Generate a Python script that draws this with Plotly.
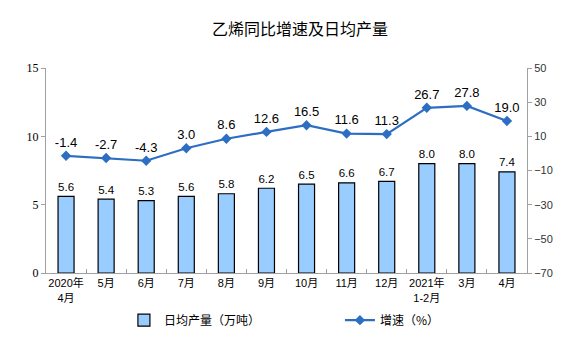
import plotly.graph_objects as go

categories = ["2020年<br>4月", "5月", "6月", "7月", "8月", "9月", "10月", "11月", "12月",
              "2021年<br>1-2月", "3月", "4月"]
output = [5.6, 5.4, 5.3, 5.6, 5.8, 6.2, 6.5, 6.6, 6.7, 8.0, 8.0, 7.4]
growth = [-1.4, -2.7, -4.3, 3.0, 8.6, 12.6, 16.5, 11.6, 11.3, 26.7, 27.8, 19.0]
right_ticks = [-70, -50, -30, -10, 10, 30, 50]

cjk = "Noto Sans CJK SC"
num = "Liberation Sans"

fig = go.Figure()
fig.add_trace(go.Bar(
    x=categories, y=output, name="日均产量（万吨）",
    marker=dict(color="#99CCFF", line=dict(color="#000000", width=1.2)),
    width=0.4,
    text=[f"{v:.1f}" for v in output], textposition="outside",
    textfont=dict(family=num, size=13, color="#000000"),
    cliponaxis=False,
))
fig.add_trace(go.Scatter(
    x=categories, y=growth, name="增速（%）", yaxis="y2",
    mode="lines+markers+text",
    line=dict(color="#2D6EC3", width=2.2),
    marker=dict(symbol="diamond", size=8, color="#2D6EC3"),
    text=[f"{v:.1f}" for v in growth], textposition="top center",
    textfont=dict(family=num, size=13, color="#000000"),
    cliponaxis=False,
))

fig.update_layout(
    width=576, height=358,
    margin=dict(l=38, r=57, t=60, b=93, autoexpand=False),
    paper_bgcolor="white", plot_bgcolor="white",
    title=dict(text="乙烯同比增速及日均产量", x=0.507, xanchor="center", y=0.940, yanchor="middle",
               font=dict(family=cjk, size=16, color="#000000")),
    bargap=0.6,
    showlegend=True,
    legend=dict(orientation="h", x=0.162, xanchor="left", y=-0.23, yanchor="middle",
                font=dict(family=cjk, size=12, color="#000000"),
                entrywidth=171, entrywidthmode="pixels", bgcolor="rgba(0,0,0,0)"),
    xaxis=dict(type="category", range=[-0.5, 11.5], autorange=False,
               showline=True, linecolor="#A0A0A0", linewidth=1,
               ticks="inside", tickson="boundaries", ticklen=4, tickcolor="#A0A0A0",
               tickangle=0, automargin=False,
               tickfont=dict(family="Liberation Sans, Noto Sans CJK SC", size=11, color="#000000"),
               showgrid=False),
    yaxis=dict(range=[0, 15], dtick=5, showline=True, linecolor="#A0A0A0", linewidth=1,
               ticks="outside", ticklen=4, tickcolor="#A0A0A0", showgrid=False, zeroline=False,
               automargin=False,
               tickfont=dict(family="Liberation Serif", size=12, color="#000000")),
    yaxis2=dict(range=[-70, 50], tickvals=right_ticks, overlaying="y", side="right",
                showline=True, linecolor="#A0A0A0", linewidth=1, automargin=False,
                ticks="outside", ticklen=4, tickcolor="#A0A0A0", showgrid=False, zeroline=False,
                tickfont=dict(family=num, size=11, color="#333333")),
)

fig.write_html("out.html")
